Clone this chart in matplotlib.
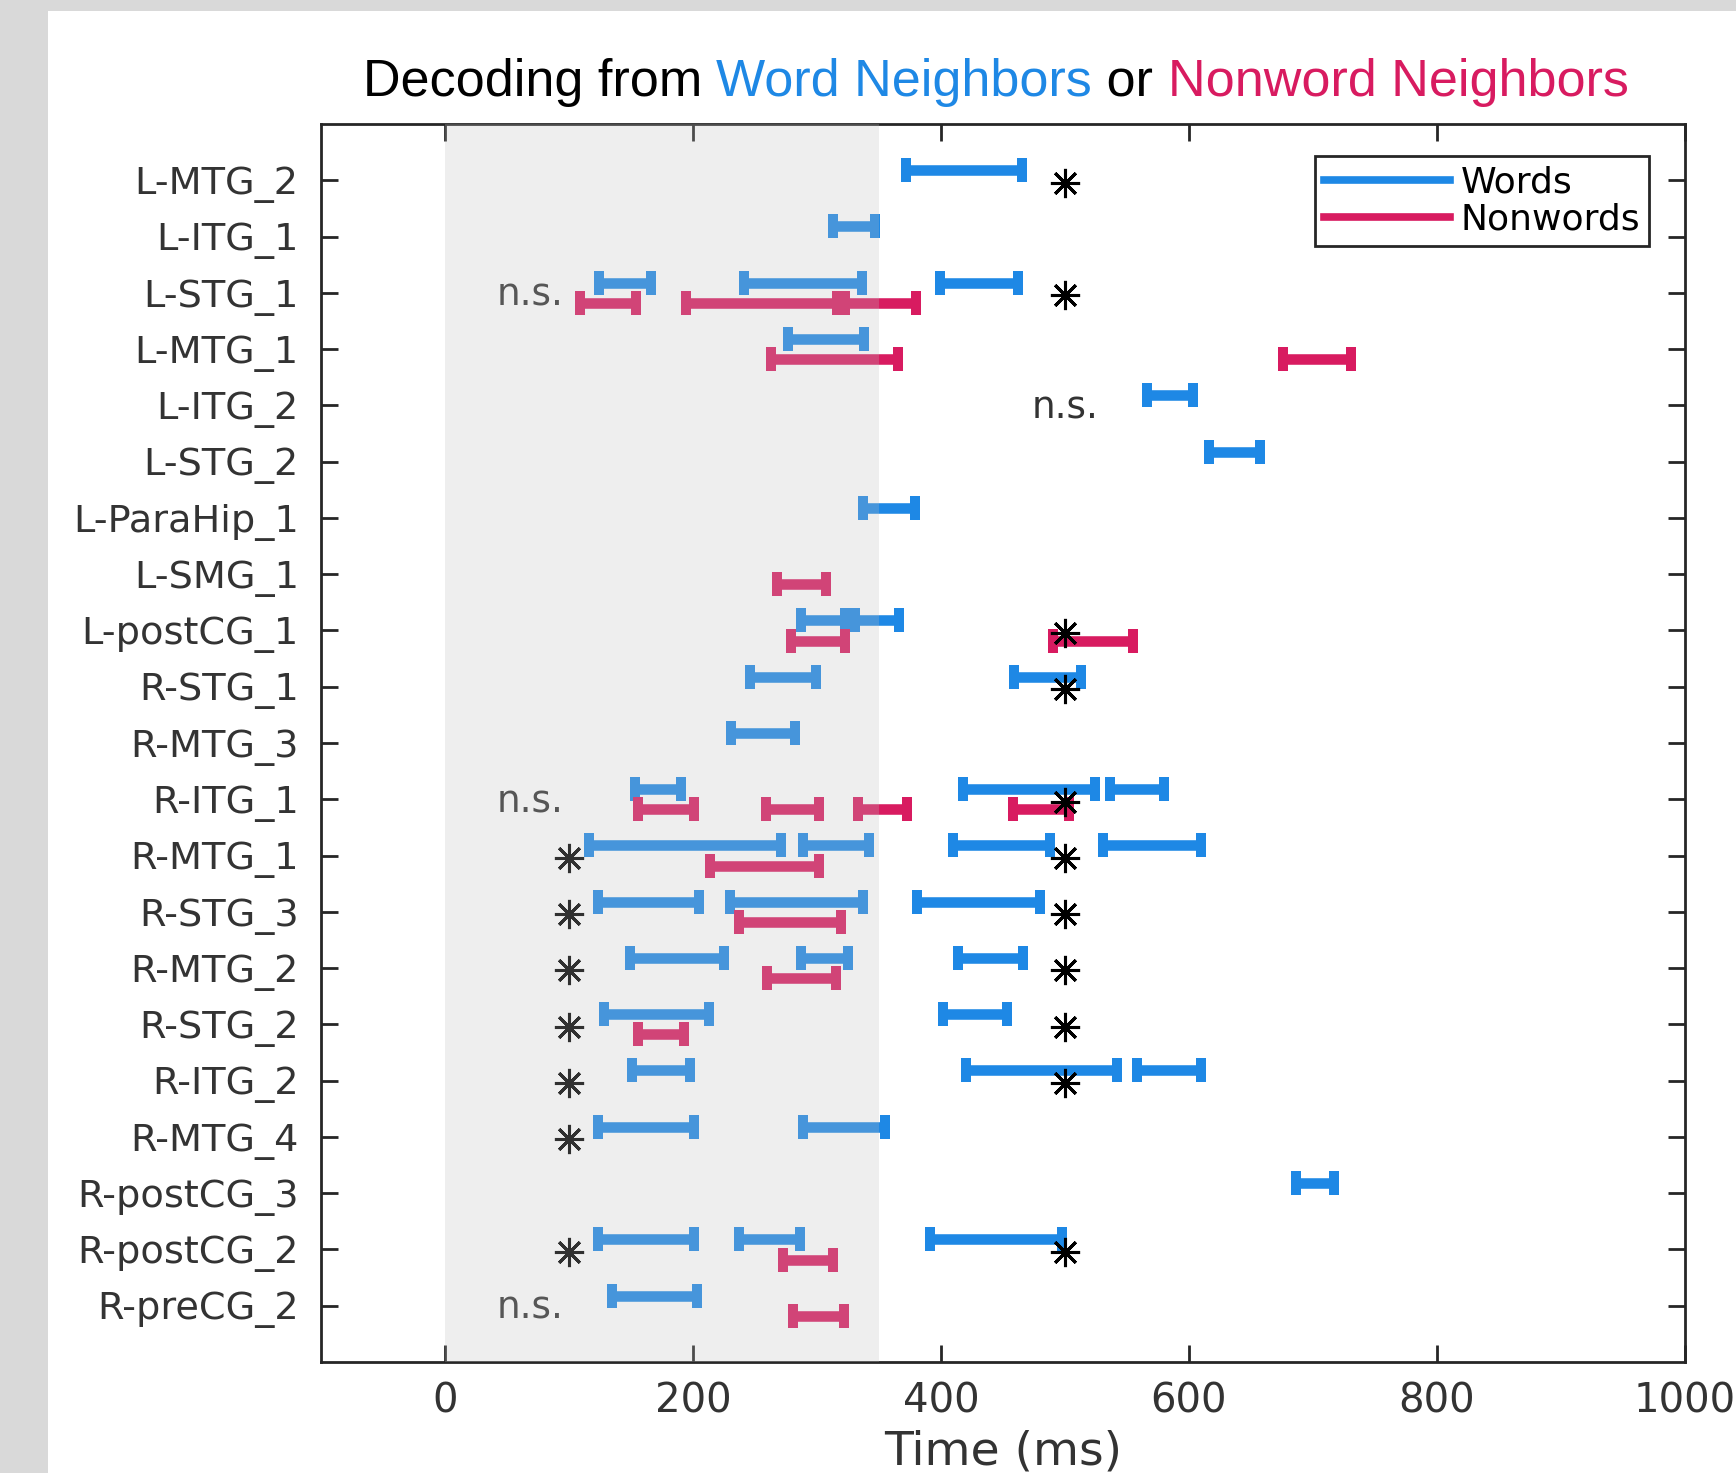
import matplotlib
matplotlib.use("Agg")
import matplotlib.pyplot as plt
from matplotlib.patches import Rectangle
from matplotlib.lines import Line2D

# ROI names, top to bottom
regions = ["L-MTG_2", "L-ITG_1", "L-STG_1", "L-MTG_1", "L-ITG_2", "L-STG_2",
           "L-ParaHip_1", "L-SMG_1", "L-postCG_1", "R-STG_1", "R-MTG_3",
           "R-ITG_1", "R-MTG_1", "R-STG_3", "R-MTG_2", "R-STG_2", "R-ITG_2",
           "R-MTG_4", "R-postCG_3", "R-postCG_2", "R-preCG_2"]

# significant decoding windows (ms), one list per ROI
word_windows = [
    [(372, 465)],
    [(313, 347)],
    [(124, 166), (241, 336), (399, 462)],
    [(277, 338)],
    [(566, 603)],
    [(616, 657)],
    [(337, 379)],
    [],
    [(287, 323), (331, 366)],
    [(246, 299), (459, 513)],
    [(231, 282)],
    [(153, 190), (418, 524), (536, 580)],
    [(116, 271), (289, 342), (410, 488), (531, 610)],
    [(123, 205), (230, 337), (381, 480)],
    [(149, 225), (287, 325), (414, 466)],
    [(128, 213), (402, 453)],
    [(151, 198), (420, 542), (558, 610)],
    [(123, 201), (289, 355)],
    [(686, 717)],
    [(123, 201), (237, 286), (391, 498)],
    [(135, 203)],
]
nonword_windows = [
    [],
    [],
    [(109, 154), (194, 323), (316, 380)],
    [(263, 365), (676, 731)],
    [],
    [],
    [],
    [(268, 307)],
    [(279, 323), (490, 555)],
    [],
    [],
    [(156, 201), (259, 302), (333, 373), (458, 503)],
    [(214, 302)],
    [(237, 319)],
    [(260, 315)],
    [(156, 193)],
    [],
    [],
    [],
    [(273, 313)],
    [(281, 322)],
]

# comparison marks: early window (x=100) and late window (x=500)
early_marks = [None, None, "n.s.", None, None, None, None, None, None, None, None,
               "n.s.", "*", "*", "*", "*", "*", "*", None, "*", "n.s."]
late_marks = ["*", None, "*", None, "n.s.", None, None, None, "*", "*", None,
              "*", "*", "*", "*", "*", "*", None, None, "*", None]
early_x, early_ns_x = 100, 69
late_x = 500
stim_end = 350

blue = "#1e88e5"
red = "#d81b60"
ink = "#262626"

fig = plt.figure(figsize=(17.36, 14.73), dpi=100, facecolor="#d9d9d9")
fig.patches.append(Rectangle((48 / 1736, 0), 1, 1 - 11 / 1473, transform=fig.transFigure,
                             facecolor="white", edgecolor="none", zorder=-10))
ax = fig.add_axes([0.1849, 0.0754, 0.7857, 0.8404])

bar_kw = dict(fmt="none", elinewidth=7.6, capsize=8.6, capthick=7.2, zorder=2)
for i, name in enumerate(regions):
    y = i + 1
    for lo, hi in word_windows[i]:
        ax.errorbar((lo + hi) / 2, y - 0.18, xerr=(hi - lo) / 2, ecolor=blue, **bar_kw)
    for lo, hi in nonword_windows[i]:
        ax.errorbar((lo + hi) / 2, y + 0.18, xerr=(hi - lo) / 2, ecolor=red, **bar_kw)
    for mark, xm in ((early_marks[i], early_x), (late_marks[i], late_x)):
        if mark == "*":
            ax.plot(xm, y + 0.04, marker=(8, 2, 0), markersize=21, color="black",
                    markeredgewidth=2.2, zorder=3)
        elif mark == "n.s.":
            xt = early_ns_x if xm == early_x else xm
            ax.text(xt, y + 0.05, "n.s.", ha="center", va="center", fontsize=27,
                    color="#333333", family="DejaVu Sans", zorder=3)

# stimulus period shading drawn on top
ax.axvspan(0, stim_end, facecolor=(0.745, 0.745, 0.745), alpha=0.256,
           edgecolor="none", zorder=4)

ax.set_xlim(-100, 1000)
ax.set_ylim(22, 0)
ax.set_xticks(range(0, 1001, 200))
ax.set_yticks(range(1, len(regions) + 1))
ax.set_yticklabels(regions)
ax.tick_params(axis="both", direction="in", length=12, width=2, color=ink,
               top=True, right=True, labelcolor="#333333")
ax.tick_params(axis="y", labelsize=27.5, pad=16)
ax.tick_params(axis="x", labelsize=29, pad=14)
for s in ax.spines.values():
    s.set_linewidth(2)
    s.set_color(ink)
ax.set_xlabel("Time (ms)", fontsize=34, color="#333333", labelpad=6)

handles = [Line2D([], [], color=blue, lw=5.5), Line2D([], [], color=red, lw=5.5)]
leg = ax.legend(handles, ["Words", "Nonwords"], loc="upper right",
                bbox_to_anchor=(0.974, 0.974), borderaxespad=0, fontsize=26,
                handlelength=3.5, handletextpad=0.3, labelspacing=0.1,
                borderpad=0.25, fancybox=False, framealpha=1, edgecolor=ink)
leg.get_frame().set_linewidth(2)
leg.set_zorder(6)

# multi-coloured title
pieces = [("Decoding from ", "black"), ("Word Neighbors", blue),
          (" or ", "black"), ("Nonword Neighbors", red)]
t0 = fig.text(0.2, 0.9348, pieces[0][0], color=pieces[0][1], fontsize=37.5,
              family="Liberation Sans", va="baseline", ha="left")
prev = t0
for s, c in pieces[1:]:
    prev = ax.annotate(s, xycoords=prev, xy=(1, 0), va="bottom", color=c,
                       fontsize=37.5, family="Liberation Sans",
                       annotation_clip=False)
fig.canvas.draw()
r = fig.canvas.get_renderer()
x_left = t0.get_window_extent(r).x0
x_right = prev.get_window_extent(r).x1
width = x_right - x_left
center = 0.5735 * fig.bbox.width
t0.set_x((center - width / 2) / fig.bbox.width)

fig.savefig("out.png", dpi=100, facecolor=fig.get_facecolor())
